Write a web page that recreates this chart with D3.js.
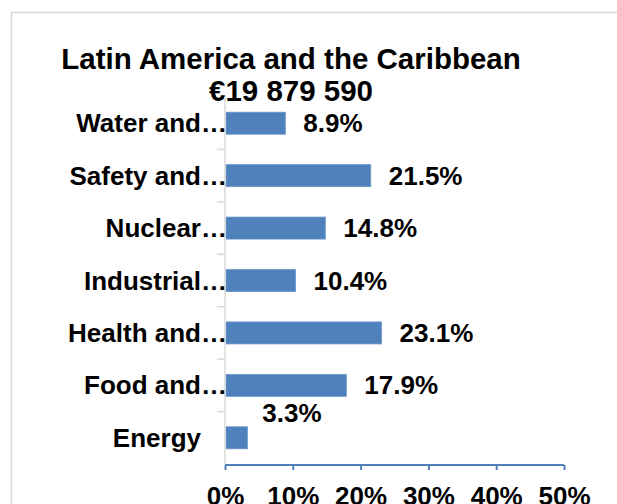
<!DOCTYPE html>
<html>
<head>
<meta charset="utf-8">
<script src="https://cdn.jsdelivr.net/npm/d3@7"></script>
<style>
  body { margin: 0; background: #fff; }
  svg { display: block; font-family: "Liberation Sans", Arial, sans-serif; }
</style>
</head>
<body>
<svg id="chart"></svg>
<script>
const categories = ["Water and…", "Safety and…", "Nuclear…", "Industrial…", "Health and…", "Food and…", "Energy"];
const shares = [8.9, 21.5, 14.8, 10.4, 23.1, 17.9, 3.3];
const xTicks = [0, 10, 20, 30, 40, 50];
const titleLines = ["Latin America and the Caribbean", "€19 879 590"];

const width = 617, height = 504;
const margin = { top: 97, right: 53, bottom: 40, left: 225 };

const svg = d3.select("#chart").attr("width", width).attr("height", height);

// outer chart frame (runs off the right and bottom of the window)
svg.append("rect")
  .attr("x", 11.5).attr("y", 12.5)
  .attr("width", 700).attr("height", 600)
  .attr("fill", "none")
  .attr("stroke", "#d9d9d9")
  .attr("stroke-width", 1.5);

const title = svg.append("text")
  .attr("x", 291)
  .attr("text-anchor", "middle")
  .style("font-weight", "bold")
  .style("font-size", "29.5px");
titleLines.forEach((t, i) => {
  title.append("tspan").attr("x", 291).attr("y", 69 + i * 32).text(t);
});

const xScale = d3.scaleLinear().domain([0, 50]).range([margin.left, 564]);
const yScale = d3.scaleBand().domain(categories).range([margin.top, 464]).paddingInner(0.58).paddingOuter(0.29);
const step = yScale.step();

const container = svg.append("g");

container.selectAll("rect.bar")
  .data(categories)
  .join("rect")
  .attr("class", "bar")
  .attr("x", xScale(0) + 1)
  .attr("y", (d) => yScale(d))
  .attr("width", (d, i) => xScale(shares[i]) - xScale(0) - 1)
  .attr("height", yScale.bandwidth())
  .attr("fill", "#4f81bd")
  .attr("stroke", "#6d97cb")
  .attr("stroke-width", 0.8);

// value labels; the smallest one sits above its bar
container.selectAll("text.value")
  .data(categories)
  .join("text")
  .attr("class", "value")
  .attr("x", (d, i) => xScale(shares[i]) + (shares[i] < 5 ? 15 : 18))
  .attr("y", (d, i) => yScale(d) + yScale.bandwidth() / 2 + (shares[i] < 5 ? -25 : 0))
  .attr("dy", "0.35em")
  .style("font-weight", "bold")
  .style("font-size", "26px")
  .text((d, i) => shares[i].toFixed(1) + "%");

// y axis: gray line with band separator ticks
const yAxis = svg.append("g");
yAxis.append("line")
  .attr("x1", xScale(0)).attr("x2", xScale(0))
  .attr("y1", margin.top).attr("y2", 464)
  .attr("stroke", "#d9d9d9").attr("stroke-width", 1.5);
yAxis.selectAll("line.sep")
  .data(categories.slice(1))
  .join("line")
  .attr("class", "sep")
  .attr("x1", xScale(0) - 8).attr("x2", xScale(0))
  .attr("y1", (d) => yScale(d) - step * 0.29)
  .attr("y2", (d) => yScale(d) - step * 0.29)
  .attr("stroke", "#d9d9d9").attr("stroke-width", 1.5);

const catLabels = yAxis.selectAll("text.cat")
  .data(categories)
  .join("text")
  .attr("class", "cat")
  .attr("y", (d) => yScale(d) + yScale.bandwidth() / 2)
  .attr("dy", "0.35em")
  .style("font-weight", "bold")
  .style("font-size", "26px");

// right-align the text before the ellipsis, let the ellipsis run to the axis
catLabels.each(function (d) {
  const t = d3.select(this);
  const base = d.replace("…", "");
  t.text(base);
  const w = this.getComputedTextLength();
  t.attr("x", xScale(0) - 24 - w).text(d);
});

// x axis
const xAxis = svg.append("g")
  .attr("transform", `translate(0, 465)`)
  .call(d3.axisBottom(xScale).tickValues(xTicks).tickSize(5).tickPadding(17).tickFormat((d) => d + "%"));
xAxis.select(".domain").attr("stroke", "#4f81bd").attr("stroke-width", 2).attr("d", `M${xScale(0)},0H${xScale(50)}`);
xAxis.selectAll(".tick line").attr("stroke", "#4f81bd").attr("stroke-width", 2);
xAxis.selectAll(".tick text")
  .attr("fill", "#000")
  .style("font-weight", "bold")
  .style("font-size", "26px")
  .style("font-family", "'Liberation Sans', Arial, sans-serif");
</script>
</body>
</html>
